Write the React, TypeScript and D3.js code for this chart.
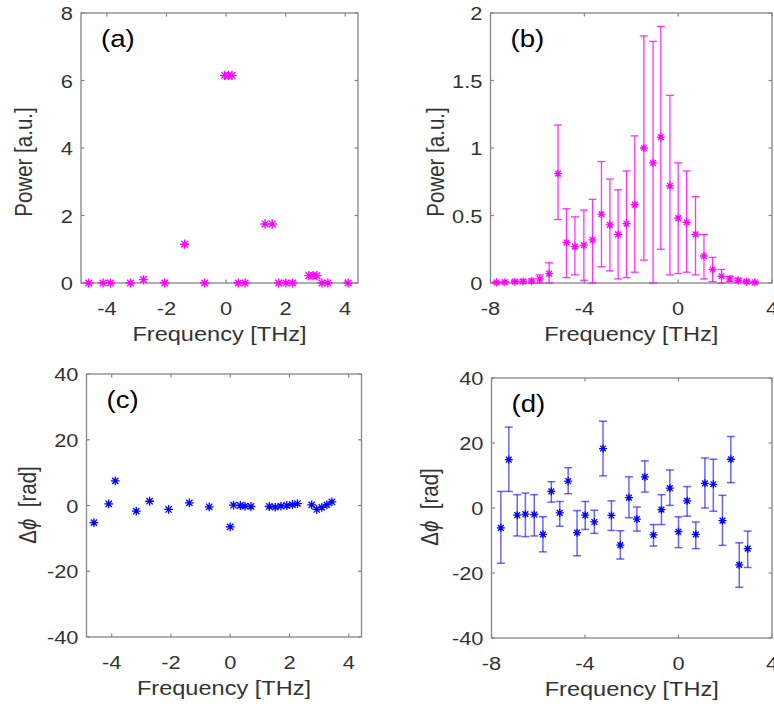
import React from 'react';
import * as d3 from 'd3';

// ---- data ----
// (a) power spectrum, single shot
const aFreq = [-4.61, -4.13, -3.88, -3.21, -2.77, -2.06, -1.39, -0.72, -0.05, 0.08, 0.2, 0.41, 0.64, 1.31, 1.55, 1.77, 2.01, 2.23, 2.78, 2.92, 3.05, 3.22, 3.42, 4.1];
const aPower = [0, 0, 0, 0, 0.1, 0, 1.15, 0, 6.15, 6.15, 6.15, 0, 0, 1.75, 1.75, 0, 0, 0, 0.22, 0.22, 0.22, 0, 0, 0];

// (b) averaged power with error bars
const bFreq = [-7.74, -7.39, -6.96, -6.61, -6.25, -5.9, -5.5, -5.12, -4.76, -4.4, -4.02, -3.65, -3.27, -2.91, -2.56, -2.2, -1.85, -1.46, -1.07, -0.74, -0.35, 0, 0.36, 0.74, 1.1, 1.47, 1.85, 2.2, 2.56, 2.92, 3.27];
const bPower = [0.005, 0.006, 0.01, 0.012, 0.015, 0.03, 0.07, 0.81, 0.3, 0.27, 0.28, 0.32, 0.51, 0.43, 0.36, 0.44, 0.58, 1.0, 0.89, 1.08, 0.72, 0.48, 0.45, 0.36, 0.2, 0.1, 0.05, 0.03, 0.02, 0.01, 0.005];
const bLow = [0.0, 0.0, 0.0, 0.0, 0.0, 0.0, 0.0, 0.47, 0.04, 0.06, 0.02, 0.0, 0.12, 0.09, 0.03, 0.04, 0.08, 0.17, 0.0, 0.25, 0.06, 0.07, 0.08, 0.06, 0.03, 0.01, 0.0, 0.01, 0.005, 0.0, 0.0];
const bHigh = [0.01, 0.012, 0.02, 0.024, 0.03, 0.06, 0.15, 1.17, 0.55, 0.49, 0.54, 0.62, 0.9, 0.77, 0.69, 0.83, 1.09, 1.83, 1.79, 1.9, 1.39, 0.89, 0.83, 0.64, 0.36, 0.19, 0.1, 0.05, 0.035, 0.02, 0.01];

// (c) spectral phase difference, single shot
const cFreq = [-4.6, -4.1, -3.88, -3.17, -2.72, -2.08, -1.38, -0.71, 0, 0.11, 0.34, 0.5, 0.7, 1.32, 1.52, 1.71, 1.91, 2.1, 2.27, 2.75, 2.92, 3.09, 3.26, 3.43];
const cPhase = [-5.2, 0.5, 7.5, -1.7, 1.3, -1.2, 0.8, -0.4, -6.5, 0.1, 0, -0.2, -0.3, -0.3, -0.5, -0.2, 0, 0.3, 0.6, 0.2, -1.2, -0.6, 0.2, 1.1];

// (d) averaged phase difference with error bars
const dFreq = [-7.6, -7.26, -6.9, -6.55, -6.17, -5.8, -5.44, -5.08, -4.72, -4.34, -3.99, -3.6, -3.23, -2.87, -2.49, -2.12, -1.78, -1.44, -1.07, -0.73, -0.37, 0, 0.37, 0.74, 1.13, 1.49, 1.88, 2.24, 2.6, 2.96];
const dPhase = [-6.1, 14.9, -2.2, -1.9, -2.0, -8.1, 5.1, -1.5, 8.3, -7.6, -2.2, -4.3, 18.3, -2.3, -11.4, 3.2, -3.4, 9.6, -8.3, -0.5, 6.1, -7.3, 2.2, -8.1, 7.6, 7.3, -3.9, 15.0, -17.5, -12.5];
const dLow = [-17, 5.1, -8.6, -8.8, -8.6, -13.5, 1.8, -5.6, 4.4, -14.7, -6.6, -7.8, 9.9, -6.9, -15.7, -3.0, -7.1, 4.9, -11.7, -5.1, 0.8, -12.2, -2.5, -12.5, 0, -1.0, -11.5, 7.8, -24.4, -18.3];
const dHigh = [5.1, 24.9, 4.1, 4.6, 4.1, -2.7, 8.1, 2.0, 12.4, -0.8, 2.0, -0.7, 26.7, 2.2, -7.0, 9.6, 0.3, 14.5, -5.1, 4.1, 11.7, -2.7, 6.6, -4.3, 15.4, 15.0, 3.9, 22.0, -10.7, -7.1];

const ticksA = [-4, -2, 0, 2, 4];
const ticksB = [-8, -4, 0, 4];
const powTicksA = [0, 2, 4, 6, 8];
const powTicksB = [0, 0.5, 1, 1.5, 2];
const phaseTicks = [-40, -20, 0, 20, 40];

const FONT = '"Liberation Sans", Arial, Helvetica, sans-serif';
const SX = 1.15; // the figure is a bit stretched horizontally
const TICK_SIZE = 19;
const LABEL_SIZE = 20.5;
const AX = '#858585';
const TXT = '#333333';
const MAGENTA = '#ff00ff';
const BLUE = '#0000ff';

type Box = { left: number; right: number; top: number; bottom: number };

const Txt: React.FC<{ x: number; y: number; size: number; anchor?: string; rot?: boolean; fill?: string; children: React.ReactNode }> = ({ x, y, size, anchor = 'middle', rot = false, fill = TXT, children }) => (
  <g transform={`translate(${x},${y}) scale(${SX},1)${rot ? ' rotate(-90)' : ''}`}>
    <text textAnchor={anchor as any} fontFamily={FONT} fontSize={size} fill={fill} style={{ whiteSpace: 'pre' }}>
      {children}
    </text>
  </g>
);

const star = (r: number) => {
  const d = r * 0.72;
  return `M${-r},0H${r}M0,${-r}V${r}M${-d},${-d}L${d},${d}M${-d},${d}L${d},${-d}`;
};

const Frame: React.FC<{
  b: Box;
  x: d3.ScaleLinear<number, number>;
  y: d3.ScaleLinear<number, number>;
  xTicks: number[];
  yTicks: number[];
  tag: string;
  yLabel: React.ReactNode;
  yLabelX: number;
  yLabelY: number;
}> = ({ b, x, y, xTicks, yTicks, tag, yLabel, yLabelX, yLabelY }) => {
  const tl = 3.5;
  return (
    <g>
      <rect x={b.left} y={b.top} width={b.right - b.left} height={b.bottom - b.top} fill="none" stroke={AX} strokeWidth={1.3} />
      {xTicks.map((t) => (
        <g key={'x' + t}>
          <line x1={x(t)} x2={x(t)} y1={b.bottom} y2={b.bottom - tl} stroke={AX} strokeWidth={1.2} />
          <line x1={x(t)} x2={x(t)} y1={b.top} y2={b.top + tl} stroke={AX} strokeWidth={1.2} />
          <Txt x={x(t)} y={b.bottom + 32} size={TICK_SIZE}>{String(t)}</Txt>
        </g>
      ))}
      {yTicks.map((t) => (
        <g key={'y' + t}>
          <line x1={b.left} x2={b.left + tl} y1={y(t)} y2={y(t)} stroke={AX} strokeWidth={1.2} />
          <line x1={b.right} x2={b.right - tl} y1={y(t)} y2={y(t)} stroke={AX} strokeWidth={1.2} />
          <Txt x={b.left - 8} y={y(t) + 7} size={TICK_SIZE} anchor="end">{String(t)}</Txt>
        </g>
      ))}
      <Txt x={(b.left + b.right) / 2} y={b.bottom + 58} size={LABEL_SIZE}>Frequency [THz]</Txt>
      <Txt x={yLabelX} y={yLabelY} size={LABEL_SIZE} rot>{yLabel}</Txt>
      <Txt x={b.left + 20} y={b.top + 34} size={24} anchor="start" fill="#000">{tag}</Txt>
    </g>
  );
};

const App: React.FC = () => {
  const W = 774;
  const H = 706;

  const boxA: Box = { left: 81, right: 358, top: 13, bottom: 283 };
  const boxB: Box = { left: 490.5, right: 772, top: 13, bottom: 283 };
  const boxC: Box = { left: 86.5, right: 361.5, top: 374, bottom: 637 };
  const boxD: Box = { left: 491.5, right: 772, top: 378, bottom: 638 };

  const xA = d3.scaleLinear().domain([-4.87, 4.43]).range([boxA.left, boxA.right]);
  const yA = d3.scaleLinear().domain([0, 8]).range([boxA.bottom, boxA.top]);
  const xB = d3.scaleLinear().domain([-8, 4]).range([boxB.left, boxB.right]);
  const yB = d3.scaleLinear().domain([0, 2]).range([boxB.bottom, boxB.top]);
  const xC = d3.scaleLinear().domain([-4.85, 4.43]).range([boxC.left, boxC.right]);
  const yC = d3.scaleLinear().domain([-40, 40]).range([boxC.bottom, boxC.top]);
  const xD = d3.scaleLinear().domain([-8, 4]).range([boxD.left, boxD.right]);
  const yD = d3.scaleLinear().domain([-40, 40]).range([boxD.bottom, boxD.top]);

  const cap = 4;
  const phiLabel = (
    <>
      <tspan>Δ</tspan>
      <tspan fontStyle="italic">ϕ</tspan>
      <tspan>{'  [rad]'}</tspan>
    </>
  );

  return (
    <svg width={W} height={H} style={{ position: 'absolute', left: 0, top: 0, background: '#fff' }}>
      <rect width={W} height={H} fill="#fff" />

      {/* (a) */}
      <Frame b={boxA} x={xA} y={yA} xTicks={ticksA} yTicks={powTicksA} tag="(a)" yLabel="Power [a.u.]" yLabelX={31.5} yLabelY={162} />
      {aFreq.map((f, i) => (
        <path key={'a' + i} d={star(4.6)} transform={`translate(${xA(f)},${yA(aPower[i])})`} stroke={MAGENTA} strokeWidth={1.4} fill="none" />
      ))}

      {/* (b) */}
      <Frame b={boxB} x={xB} y={yB} xTicks={ticksB} yTicks={powTicksB} tag="(b)" yLabel="Power [a.u.]" yLabelX={444} yLabelY={162} />
      {bFreq.map((f, i) => {
        const cx = xB(f);
        return (
          <g key={'b' + i} stroke={MAGENTA} strokeOpacity={0.8} strokeWidth={1.3} fill="none">
            <line x1={cx} x2={cx} y1={yB(bLow[i])} y2={yB(bHigh[i])} />
            <line x1={cx - cap} x2={cx + cap} y1={yB(bLow[i])} y2={yB(bLow[i])} />
            <line x1={cx - cap} x2={cx + cap} y1={yB(bHigh[i])} y2={yB(bHigh[i])} />
            <path d={star(4)} transform={`translate(${cx},${yB(bPower[i])})`} strokeOpacity={1} />
          </g>
        );
      })}

      {/* (c) */}
      <Frame b={boxC} x={xC} y={yC} xTicks={ticksA} yTicks={phaseTicks} tag="(c)" yLabel={phiLabel} yLabelX={36} yLabelY={505} />
      {cFreq.map((f, i) => (
        <path key={'c' + i} d={star(4.4)} transform={`translate(${xC(f)},${yC(cPhase[i])})`} stroke={BLUE} strokeWidth={1.3} fill="none" />
      ))}

      {/* (d) */}
      <Frame b={boxD} x={xD} y={yD} xTicks={ticksB} yTicks={phaseTicks} tag="(d)" yLabel={phiLabel} yLabelX={438} yLabelY={507} />
      {dFreq.map((f, i) => {
        const cx = xD(f);
        return (
          <g key={'d' + i} stroke={BLUE} strokeWidth={1.5} fill="none">
            <g strokeOpacity={0.6}>
              <line x1={cx} x2={cx} y1={yD(dLow[i])} y2={yD(dHigh[i])} />
              <line x1={cx - cap} x2={cx + cap} y1={yD(dLow[i])} y2={yD(dLow[i])} />
              <line x1={cx - cap} x2={cx + cap} y1={yD(dHigh[i])} y2={yD(dHigh[i])} />
            </g>
            <path d={star(4)} transform={`translate(${cx},${yD(dPhase[i])})`} strokeWidth={1.3} />
          </g>
        );
      })}
    </svg>
  );
};

export default App;
